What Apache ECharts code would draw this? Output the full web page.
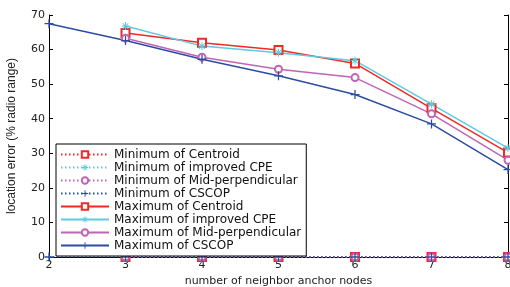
<!DOCTYPE html>
<html>
<head>
<meta charset="utf-8">
<script src="https://cdn.jsdelivr.net/npm/echarts@6/dist/echarts.min.js"></script>
<style>
  html, body { margin: 0; padding: 0; background: #fff; }
  #chart { width: 510px; height: 287px; }
</style>
</head>
<body>
<div id="chart"></div>
<script>
  // number of neighbor anchor nodes
  const nodes = [2, 3, 4, 5, 6, 7, 8]

  // minimum location error (% radio range)
  const minCentroid = [null, 0, 0, 0, 0, 0, 0]
  const minCPE = [null, 0, 0, 0, 0, 0, 0]
  const minMidPerp = [null, 0, 0, 0, 0, 0, 0]
  const minCSCOP = [0, 0, 0, 0, 0, 0, 0]

  // maximum location error (% radio range)
  const maxCentroid = [null, 64.8, 62, 59.9, 56, 43, 30.2]
  const maxCPE = [null, 66.8, 61, 59.1, 56.8, 44.2, 31.5]
  const maxMidPerp = [null, 63.3, 57.8, 54.3, 51.9, 41.4, 28]
  const maxCSCOP = [67.5, 62.6, 57.2, 52.4, 47, 38.5, 25.3]

  const yTicks = [0, 10, 20, 30, 40, 50, 60, 70]

  const red = '#f02828'
  const cyan = '#5ccbe0'
  const magenta = '#c064b4'
  const blue = '#2c4ca4'

  const plusPath = 'path://M-0.14,-1H0.14V-0.14H1V0.14H0.14V1H-0.14V0.14H-1V-0.14H-0.14Z'
  const starPath = 'path://M-0.12,-1H0.12V-0.12H1V0.12H0.12V1H-0.12V0.12H-1V-0.12H-0.12Z' +
    'M-0.62,-0.79L0,-0.17L0.62,-0.79L0.79,-0.62L0.17,0L0.79,0.62L0.62,0.79L0,0.17L-0.62,0.79L-0.79,0.62L-0.17,0L-0.79,-0.62Z'

  function pairs (values) {
    return nodes.map((n, i) => [n, values[i]]).filter(p => p[1] !== null)
  }

  function makeSeries (name, values, color, symbol, size, dotted) {
    return {
      name: name,
      type: 'line',
      data: pairs(values),
      symbol: symbol,
      symbolSize: size,
      showAllSymbol: true,
      animation: false,
      itemStyle: { color: color, borderWidth: 1.4 },
      lineStyle: { color: color, width: 1.5, type: dotted ? [1.5, 2.5] : 'solid' },
      emphasis: { disabled: true }
    }
  }

  const series = [
    makeSeries('Minimum of Centroid', minCentroid, red, 'emptyRect', 8, true),
    makeSeries('Minimum of improved CPE', minCPE, cyan, starPath, 8, true),
    makeSeries('Minimum of Mid-perpendicular', minMidPerp, magenta, 'emptyCircle', 7, true),
    makeSeries('Minimum of CSCOP', minCSCOP, blue, plusPath, 9, true),
    makeSeries('Maximum of Centroid', maxCentroid, red, 'emptyRect', 8, false),
    makeSeries('Maximum of improved CPE', maxCPE, cyan, starPath, 8, false),
    makeSeries('Maximum of Mid-perpendicular', maxMidPerp, magenta, 'emptyCircle', 7, false),
    makeSeries('Maximum of CSCOP', maxCSCOP, blue, plusPath, 9, false)
  ]

  const axisLine = { show: true, lineStyle: { color: '#000', width: 1 } }
  const axisTick = { show: true, inside: true, length: 4, lineStyle: { color: '#000' } }
  const labelFont = { color: '#222', fontSize: 11, fontFamily: 'DejaVu Sans, sans-serif' }

  const chart = echarts.init(document.getElementById('chart'))
  chart.setOption({
    animation: false,
    backgroundColor: '#fff',
    grid: { left: 49, right: 2, top: 15, bottom: 30, outerBoundsMode: 'none' },
    legend: {
      data: series.map(s => s.name),
      orient: 'vertical',
      left: 56,
      top: 144,
      width: 250,
      itemWidth: 48,
      itemHeight: 8,
      itemGap: 0,
      padding: [4, 5, 4, 4],
      backgroundColor: '#fff',
      borderColor: '#000',
      borderWidth: 1,
      borderRadius: 0,
      selectedMode: false,
      textStyle: { color: '#111', fontSize: 12, lineHeight: 13, fontFamily: 'DejaVu Sans, sans-serif' }
    },
    xAxis: [
      {
        type: 'value',
        min: 2,
        max: 8,
        interval: 1,
        name: 'number of neighbor anchor nodes',
        nameLocation: 'middle',
        nameGap: 16,
        nameTextStyle: { color: '#222', fontSize: 11, fontFamily: 'DejaVu Sans, sans-serif' },
        axisLine: axisLine,
        axisTick: axisTick,
        axisLabel: Object.assign({ margin: 3 }, labelFont),
        splitLine: { show: false }
      },
      {
        type: 'value',
        position: 'top',
        min: 2,
        max: 8,
        interval: 1,
        axisLine: axisLine,
        axisTick: axisTick,
        axisLabel: { show: false },
        splitLine: { show: false }
      }
    ],
    yAxis: [
      {
        type: 'value',
        min: yTicks[0],
        max: yTicks[yTicks.length - 1],
        interval: 10,
        name: 'location error (% radio range)',
        nameLocation: 'middle',
        nameGap: 31,
        nameTextStyle: { color: '#222', fontSize: 12, fontFamily: 'Liberation Sans Narrow, Liberation Sans, sans-serif' },
        axisLine: axisLine,
        axisTick: axisTick,
        axisLabel: Object.assign({ margin: 4 }, labelFont),
        splitLine: { show: false }
      },
      {
        type: 'value',
        position: 'right',
        min: 0,
        max: 70,
        interval: 10,
        axisLine: axisLine,
        axisTick: axisTick,
        axisLabel: { show: false },
        splitLine: { show: false }
      }
    ],
    series: series
  })
</script>
</body>
</html>
